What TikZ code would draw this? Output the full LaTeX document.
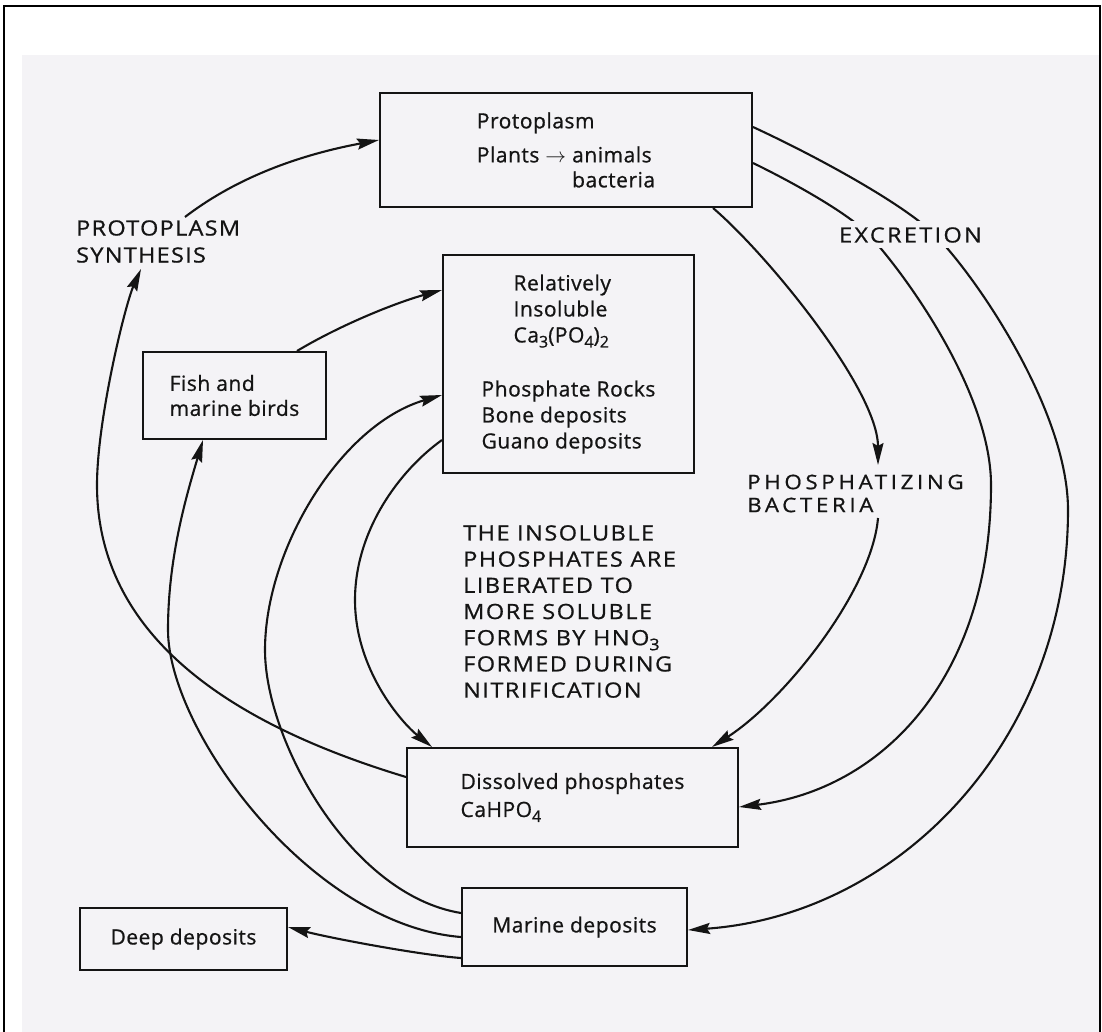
\documentclass[tikz,border=0pt]{standalone}
\usepackage{fontspec}
\setmainfont{Open Sans}[FakeBold=0.8]
\usetikzlibrary{arrows.meta}
\definecolor{paper}{RGB}{244,243,246}
\definecolor{ink}{RGB}{20,20,20}
% lowered chemical subscript, close to full size
\newcommand\lowr[1]{\raisebox{-5pt}{\fontsize{16}{16}\selectfont #1}}
% widened, tracked capitals
\newcommand\spaced[1]{\addfontfeature{FakeStretch=1.12,LetterSpace=#1}}

\begin{document}
\begin{tikzpicture}[x=1pt,y=-1pt,
  box/.style={draw=ink, line width=2pt, align=left, inner sep=0pt,
              font=\fontsize{21}{26}\selectfont\addfontfeature{LetterSpace=2.5}, text=ink},
  conn/.style={draw=ink, line width=2.1pt,
               -{Stealth[length=22pt,width=11pt,inset=3pt]}},
  tag/.style={text=ink, align=left, inner sep=0pt},
]
\useasboundingbox (0,0) rectangle (1102,1032);
% page and scanned sheet
\fill[white] (0,0) rectangle (1102,1032);
\fill[paper] (22,55) rectangle (1100,1032);
\draw[line width=2.5pt] (4,1032) -- (4,6) -- (1100,6) -- (1100,1032);

% boxes
\node[box, minimum width=372pt, minimum height=114pt] (proto) at (566,150)
  {Protoplasm\\[8pt]Plants~$\rightarrow$~animals\\[-1pt]\phantom{Plants~$\rightarrow$~}bacteria};
\node[box, minimum width=251pt, minimum height=218pt] (ins) at (568.5,364)
  {\hspace*{32pt}Relatively\\\hspace*{32pt}Insoluble\\\hspace*{32pt}Ca\lowr{3}(PO\lowr{4})\lowr{2}\\[28pt]
   Phosphate Rocks\\Bone deposits\\Guano deposits};
\node[box, minimum width=183pt, minimum height=87pt] (fish) at (234.5,395.5)
  {Fish and\\[-1pt]marine birds};
\node[box, minimum width=331pt, minimum height=99pt] (dis) at (572.5,797.5)
  {Dissolved phosphates\\[2pt]CaHPO\lowr{4}};
\node[box, minimum width=225pt, minimum height=78pt] (marine) at (574.5,927)
  {Marine deposits};
\node[box, minimum width=207pt, minimum height=62pt] (deep) at (183.5,939)
  {Deep deposits};

% free-standing texts
\node[tag, anchor=west, font=\fontsize{21}{27}\selectfont\spaced{6}] (synth) at (76,241.5)
  {PROTOPLASM\\SYNTHESIS};
\node[tag, anchor=west, font=\fontsize{20}{23}\selectfont\spaced{18}] (phos) at (747,493.5)
  {PHOSPHATIZING\\BACTERIA};
\node[tag, anchor=west, font=\fontsize{21}{26.2}\selectfont\spaced{7}] (note) at (463,611.5)
  {THE INSOLUBLE\\PHOSPHATES ARE\\LIBERATED TO\\MORE SOLUBLE\\FORMS BY HNO\lowr{3}\\FORMED DURING\\NITRIFICATION};

\coordinate (synthin) at (141,269);
\coordinate (synthout) at (185,217);
\coordinate (phosin) at (878,465);
\coordinate (phosout) at (878,518);

% protoplasm synthesis
\draw[conn] (dis.west |- 0,777) .. controls (257,732) and (97,650) .. (97,485)
  .. controls (97,420) and (125,305) .. (synthin);
\draw[conn] (synthout) .. controls (245,171) and (315,152) .. (proto.west |- 0,140);

% left-hand cycle
\draw[conn] (fish.north -| 297,0) .. controls (342,324) and (398,302) .. (ins.west |- 0,290);
\draw[conn] (marine.west |- 0,937) .. controls (310,925) and (168,730) .. (168,630)
  .. controls (168,560) and (185,500) .. (fish.south -| 203,0);
\draw[conn] (marine.west |- 0,913) .. controls (350,895) and (265,740) .. (265,650)
  .. controls (265,550) and (340,425) .. (ins.west |- 0,395);
\draw[conn] (ins.west |- 0,440) .. controls (400,470) and (355,530) .. (355,600)
  .. controls (355,670) and (402,723) .. (dis.north -| 432,0);
\draw[conn] (marine.west |- 0,958) .. controls (420,955) and (330,938) .. (deep.east |- 0,927);

% right-hand cycle
\draw[conn] (proto.south -| 713,0) .. controls (768,255) and (878,390) .. (phosin);
\draw[conn] (phosout) .. controls (872,590) and (785,700) .. (dis.north -| 712,0);
\draw[conn] (proto.east |- 0,163) .. controls (792,182) and (850,214) .. (870,236)
  .. controls (910,280) and (991,395) .. (991,485)
  .. controls (991,680) and (880,790) .. (dis.east |- 0,807);
\draw[conn] (proto.east |- 0,127) .. controls (820,158) and (905,205) .. (935,235)
  .. controls (975,275) and (1068,410) .. (1068,510)
  .. controls (1068,740) and (900,915) .. (marine.east |- 0,930);

% label laid over the excretion arcs
\node[tag, font=\fontsize{21}{26}\selectfont\spaced{11}, fill=paper,
      text height=15pt, text depth=0pt, inner xsep=4pt, inner ysep=6pt]
  (excr) at (910.5,235) {EXCRETION};
\end{tikzpicture}
\end{document}
